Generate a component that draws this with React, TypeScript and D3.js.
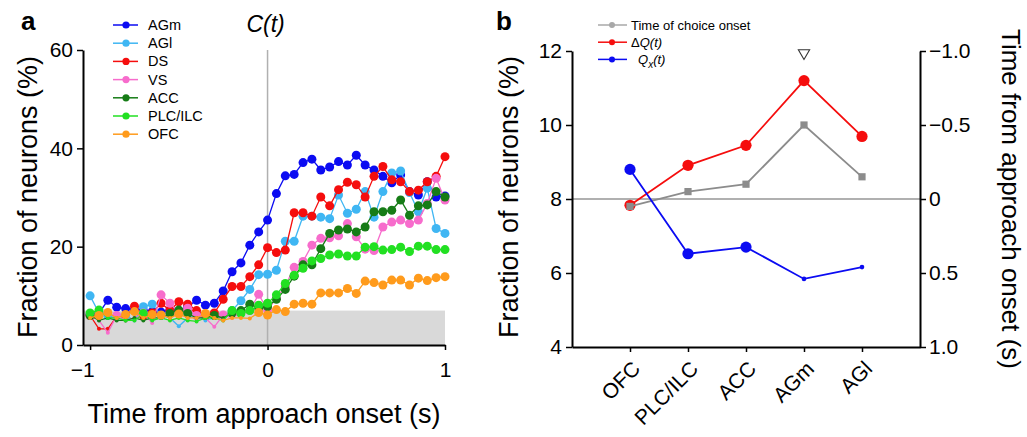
import React, { useEffect, useRef } from 'react'
import * as d3 from 'd3'

// panel a: fraction of neurons over time
const timePoints = [
  -1, -0.95, -0.9, -0.85, -0.8, -0.75, -0.7, -0.65, -0.6, -0.55, -0.5, -0.45, -0.4, -0.35,
  -0.3, -0.25, -0.2, -0.15, -0.1, -0.05, 0, 0.05, 0.1, 0.15, 0.2, 0.25, 0.3, 0.35, 0.4,
  0.45, 0.5, 0.55, 0.6, 0.65, 0.7, 0.75, 0.8, 0.85, 0.9, 0.95, 1,
]
const regions = ['AGm', 'AGl', 'DS', 'VS', 'ACC', 'PLC/ILC', 'OFC']
const regionColors = ['#0b0bf2', '#3fb6f3', '#f50d0d', '#f76ccc', '#167c16', '#22e022', '#ff9b1c']

const agm = [6.2, 6.5, 9.1, 7.7, 7.4, 7.2, 7.0, 6.8, 6.7, 7.2, 7.0, 7.8, 9.1, 8.1, 8.5, 11.0, 14.9, 16.7, 20.3, 23.0, 25.4, 30.8, 34.4, 34.7, 37.1, 37.8, 35.6, 36.2, 37.3, 36.6, 38.6, 36.6, 35.6, 34.3, 33.0, 34.6, 31.2, 30.5, 33.2, 30.1, 30.3]
const agl = [10.0, 6.5, 6.0, 5.5, 6.0, 5.0, 7.8, 8.3, 6.0, 5.5, 3.8, 5.5, 6.0, 5.0, 5.5, 5.5, 7.0, 9.0, 11.3, 14.3, 14.4, 15.2, 21.1, 21.1, 26.2, 26.2, 26.0, 25.7, 30.5, 26.8, 27.6, 31.2, 26.0, 31.2, 35.0, 35.4, 31.0, 27.1, 31.9, 23.7, 22.7]
const ds = [6.0, 3.3, 3.3, 5.8, 5.6, 7.9, 6.0, 6.5, 8.5, 7.0, 8.8, 8.3, 7.0, 6.0, 6.5, 9.3, 11.9, 11.9, 13.9, 16.3, 19.8, 18.8, 19.3, 26.9, 26.9, 26.2, 30.1, 28.3, 31.6, 33.1, 32.6, 30.1, 34.3, 36.3, 33.6, 33.2, 31.2, 31.5, 33.2, 34.3, 38.3]
const vs = [6.0, 5.0, 2.5, 6.0, 5.0, 5.5, 6.5, 4.5, 10.2, 8.5, 6.5, 7.5, 6.0, 5.5, 3.7, 6.1, 5.5, 6.6, 7.0, 10.3, 7.1, 9.5, 12.0, 15.8, 17.0, 20.3, 21.7, 21.8, 22.2, 24.7, 22.0, 19.5, 19.2, 24.0, 25.0, 25.4, 24.7, 25.4, 28.8, 33.9, 29.5]
const acc = [6.0, 5.0, 5.5, 5.0, 5.0, 5.5, 5.0, 5.5, 5.5, 6.4, 7.1, 6.4, 5.5, 5.5, 6.0, 5.5, 6.5, 7.0, 8.3, 7.5, 7.8, 9.3, 11.3, 14.0, 16.3, 16.3, 19.6, 22.7, 23.4, 23.6, 23.0, 24.0, 27.1, 27.1, 27.4, 29.5, 26.4, 28.3, 28.5, 31.2, 30.1]
const plc = [6.5, 7.1, 5.5, 5.5, 5.0, 5.0, 6.4, 5.0, 5.5, 5.0, 5.5, 5.0, 4.8, 5.5, 5.5, 5.0, 7.0, 6.4, 7.0, 8.1, 8.5, 10.2, 12.5, 14.2, 15.6, 17.1, 17.6, 18.3, 18.5, 18.1, 18.1, 19.9, 20.0, 19.3, 19.4, 19.9, 19.0, 20.1, 20.1, 19.4, 19.4]
const ofc = [5.5, 6.0, 6.6, 5.5, 6.2, 6.8, 5.5, 6.2, 6.1, 5.5, 6.3, 5.5, 5.5, 6.4, 5.5, 5.0, 5.5, 5.5, 5.4, 6.6, 6.1, 7.2, 6.8, 8.3, 8.5, 8.3, 10.6, 10.6, 10.6, 11.5, 10.5, 13.0, 12.7, 12.2, 13.2, 13.2, 12.2, 13.6, 13.1, 13.7, 13.9]
const regionSeries = [agm, agl, ds, vs, acc, plc, ofc]

const chanceLevel = 7
const bigMarkerFrom = 6
const yTicksA = [0, 20, 40, 60]
const xTicksA = [-1, 0, 1]

// panel b: per-region summary
const categories = ['OFC', 'PLC/ILC', 'ACC', 'AGm', 'AGl']
const choiceOnset = [0.05, -0.05, -0.1, -0.5, -0.15] // s, right axis
const deltaQ = [7.83, 8.91, 9.45, 11.2, 9.69] // %, left axis
const qx = [-0.2, 0.37, 0.325, 0.54, 0.46] // s, right axis
const qxSignificant = [true, true, true, false, false]
const yTicksL = [4, 6, 8, 10, 12]
const yTicksR = [-1, -0.5, 0, 0.5, 1]
const markedRegion = 'AGm'

const font = 'Arial, "Liberation Sans", Helvetica, sans-serif'

export default function App() {
  const ref = useRef<SVGSVGElement>(null)

  useEffect(() => {
    const svg = d3.select(ref.current)
    svg.selectAll('*').remove()
    svg.style('font-family', font)

    // ---------- panel a ----------
    const xA = d3.scaleLinear().domain([-1.04, 1]).range([83, 445])
    const yA = d3.scaleLinear().domain([0, 60]).range([345, 50])

    const a = svg.append('g')

    a.append('rect')
      .attr('x', xA.range()[0])
      .attr('y', yA(chanceLevel))
      .attr('width', xA(1) - xA.range()[0])
      .attr('height', yA(0) - yA(chanceLevel))
      .attr('fill', '#d9d9d9')

    a.append('line')
      .attr('x1', xA(0)).attr('x2', xA(0))
      .attr('y1', yA(60)).attr('y2', yA(0))
      .attr('stroke', '#b0b0b0').attr('stroke-width', 1.5)

    const line = d3.line<number>()
      .x((d, i) => xA(timePoints[i]))
      .y((d) => yA(d))

    regionSeries.forEach((vals, k) => {
      a.append('path')
        .datum(vals)
        .attr('d', line)
        .attr('fill', 'none')
        .attr('stroke', regionColors[k])
        .attr('stroke-width', 1.3)
      a.append('g')
        .selectAll('circle')
        .data(vals)
        .enter()
        .append('circle')
        .attr('cx', (d, i) => xA(timePoints[i]))
        .attr('cy', (d) => yA(d))
        .attr('r', (d) => (d >= bigMarkerFrom ? 4.5 : 2))
        .attr('fill', regionColors[k])
    })

    const yAxisA = a.append('g')
      .attr('transform', `translate(${xA.range()[0]},0)`)
      .call(d3.axisLeft(yA).tickValues(yTicksA).tickSize(6).tickSizeOuter(0).tickPadding(4))
    const xAxisA = a.append('g')
      .attr('transform', `translate(0,${yA(0)})`)
      .call(d3.axisBottom(xA).tickValues(xTicksA).tickFormat(d3.format('d')).tickSize(5).tickSizeOuter(0).tickPadding(12))

    ;[yAxisA, xAxisA].forEach((g) => {
      g.select('.domain').attr('stroke', '#000').attr('stroke-width', 2)
      g.selectAll('.tick line').attr('stroke', '#000').attr('stroke-width', 1.5)
      g.selectAll('.tick text').attr('fill', '#000').style('font-size', '21px').style('font-family', font)
    })
    // the "−1" label sits a little left of its tick in the original
    xAxisA.selectAll('.tick text').filter((d) => (d as number) < 0).attr('dx', -8)

    a.append('text')
      .attr('transform', 'translate(37,197) rotate(-90)')
      .attr('text-anchor', 'middle')
      .style('font-size', '27px')
      .text('Fraction of neurons (%)')

    a.append('text')
      .attr('x', 264).attr('y', 423)
      .attr('text-anchor', 'middle')
      .style('font-size', '27px')
      .text('Time from approach onset (s)')

    a.append('text')
      .attr('x', xA(0) - 2).attr('y', 32)
      .attr('text-anchor', 'middle')
      .style('font-size', '23px')
      .style('font-style', 'italic')
      .text('C(t)')

    a.append('text')
      .attr('x', 21).attr('y', 30)
      .style('font-size', '26px')
      .style('font-weight', 'bold')
      .text('a')

    const legA = a.append('g').attr('transform', 'translate(113,25)')
    regions.forEach((r, k) => {
      const row = legA.append('g').attr('transform', `translate(0,${k * 18.2})`)
      row.append('line').attr('x1', 0).attr('x2', 25).attr('stroke', regionColors[k]).attr('stroke-width', 1.5)
      row.append('circle').attr('cx', 13).attr('r', 3.6).attr('fill', regionColors[k])
      row.append('text').attr('x', 35).attr('y', 5).style('font-size', '14.5px').text(r)
    })

    // ---------- panel b ----------
    const xB = d3.scalePoint().domain(categories).range([572, 920]).padding(1)
    const yL = d3.scaleLinear().domain([4, 12]).range([347, 51])
    const yR = d3.scaleLinear().domain([-1, 1]).range([51, 347])

    const b = svg.append('g')

    b.append('line')
      .attr('x1', 572).attr('x2', 920)
      .attr('y1', yL(8)).attr('y2', yL(8))
      .attr('stroke', '#b0b0b0').attr('stroke-width', 1.8)

    const lineB = d3.line<[number, number]>()

    // red: delta Q
    const redPts = categories.map((c, i) => [xB(c)!, yL(deltaQ[i])] as [number, number])
    b.append('path').attr('d', lineB(redPts)).attr('fill', 'none').attr('stroke', '#f50d0d').attr('stroke-width', 1.8)
    b.append('g').selectAll('circle').data(redPts).enter().append('circle')
      .attr('cx', (d) => d[0]).attr('cy', (d) => d[1]).attr('r', 5.6).attr('fill', '#f50d0d')

    // gray: time of choice onset
    const grayPts = categories.map((c, i) => [xB(c)!, yR(choiceOnset[i])] as [number, number])
    b.append('path').attr('d', lineB(grayPts)).attr('fill', 'none').attr('stroke', '#8c8c8c').attr('stroke-width', 1.8)
    b.append('g').selectAll('rect').data(grayPts).enter().append('rect')
      .attr('x', (d) => d[0] - 3.6).attr('y', (d) => d[1] - 3.6)
      .attr('width', 7.2).attr('height', 7.2).attr('fill', '#8c8c8c')

    // blue: Qx
    const bluePts = categories.map((c, i) => [xB(c)!, yR(qx[i])] as [number, number])
    b.append('path').attr('d', lineB(bluePts)).attr('fill', 'none').attr('stroke', '#0b0bf2').attr('stroke-width', 1.8)
    b.append('g').selectAll('circle').data(bluePts).enter().append('circle')
      .attr('cx', (d) => d[0]).attr('cy', (d) => d[1])
      .attr('r', (d, i) => (qxSignificant[i] ? 5.6 : 2.3)).attr('fill', '#0b0bf2')

    // open triangle marker
    b.append('path')
      .attr('d', d3.symbol(d3.symbolTriangle, 55)())
      .attr('transform', `translate(${xB(markedRegion)},${yL(12) + 2}) rotate(180)`)
      .attr('fill', 'none').attr('stroke', '#333').attr('stroke-width', 1.1)

    const yAxisL = b.append('g').attr('transform', 'translate(572,0)')
      .call(d3.axisLeft(yL).tickValues(yTicksL).tickSize(6).tickSizeOuter(0).tickPadding(4))
    const yAxisR = b.append('g').attr('transform', 'translate(920,0)')
      .call(d3.axisRight(yR).tickValues(yTicksR).tickSize(6).tickSizeOuter(0).tickPadding(3)
        .tickFormat((d) => (d === 0 ? '0' : d3.format('.1f')(d as number))))
    const xAxisB = b.append('g').attr('transform', `translate(0,${yL(4)})`)
      .call(d3.axisBottom(xB).tickSize(5).tickSizeOuter(0))

    ;[yAxisL, yAxisR, xAxisB].forEach((g) => {
      g.select('.domain').attr('stroke', '#000').attr('stroke-width', 2)
      g.selectAll('.tick line').attr('stroke', '#000').attr('stroke-width', 1.5)
      g.selectAll('.tick text').attr('fill', '#000').style('font-size', '21px').style('font-family', font)
    })
    xAxisB.selectAll('.tick text')
      .attr('y', 0).attr('dy', 0)
      .attr('transform', 'translate(11,23) rotate(-45)')
      .style('text-anchor', 'end')

    b.append('text')
      .attr('transform', 'translate(518,197) rotate(-90)')
      .attr('text-anchor', 'middle')
      .style('font-size', '27px')
      .text('Fraction of neurons (%)')

    b.append('text')
      .attr('transform', 'translate(1002,199) rotate(90)')
      .attr('text-anchor', 'middle')
      .style('font-size', '26px')
      .text('Time from approach onset (s)')

    b.append('text')
      .attr('x', 496).attr('y', 30)
      .style('font-size', '26px')
      .style('font-weight', 'bold')
      .text('b')

    const legB = b.append('g').attr('transform', 'translate(598,25)')
    const legColors = ['#a8a8a8', '#f50d0d', '#0b0bf2']
    legColors.forEach((c, k) => {
      const row = legB.append('g').attr('transform', `translate(0,${k * 17.2})`)
      row.append('line').attr('x1', 0).attr('x2', 29).attr('stroke', c).attr('stroke-width', 1.5)
      row.append('circle').attr('cx', 14).attr('r', 3).attr('fill', c)
    })
    legB.append('text').attr('x', 33).attr('y', 4.5).style('font-size', '13px').text('Time of choice onset')
    const dq = legB.append('text').attr('x', 33).attr('y', 17.2 + 4.5).style('font-size', '13px')
    dq.append('tspan').text('Δ')
    dq.append('tspan').style('font-style', 'italic').text('Q(t)')
    const qt = legB.append('text').attr('x', 40).attr('y', 34.4 + 4.5).style('font-size', '13px').style('font-style', 'italic')
    qt.append('tspan').text('Q')
    qt.append('tspan').attr('dy', 4).style('font-size', '10px').text('x')
    qt.append('tspan').attr('dy', -4).text('(t)')
  }, [])

  return (
    <svg
      ref={ref}
      width={1027}
      height={437}
      style={{ position: 'absolute', left: 0, top: 0, background: '#fff' }}
    ></svg>
  )
}
